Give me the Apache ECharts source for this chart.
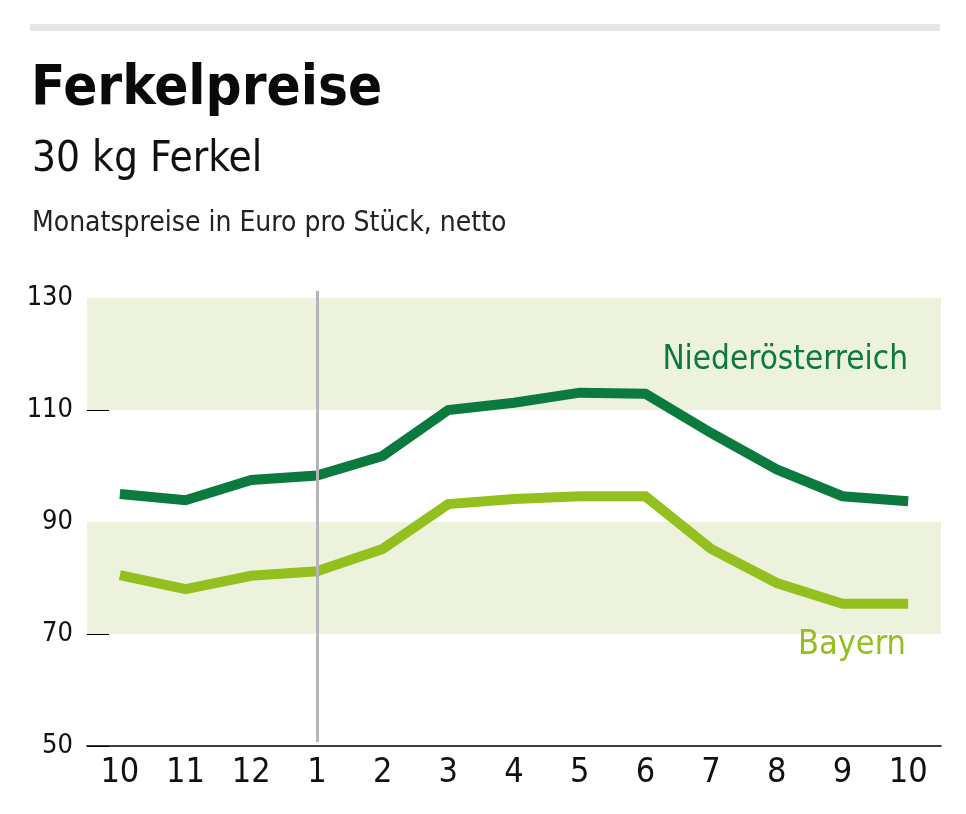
<!DOCTYPE html>
<html lang="de">
<head>
    <meta charset="UTF-8">
    <title>Ferkelpreise</title>
    <script src="https://cdn.jsdelivr.net/npm/echarts@6/dist/echarts.min.js"></script>
    <style>
        html, body { margin: 0; padding: 0; background: #fff; }
    </style>
</head>
<body>
<div id="main" style="width: 966px;height:814px;"></div>
<script type="text/javascript">
    var months = ['10', '11', '12', '1', '2', '3', '4', '5', '6', '7', '8', '9', '10'];
    var niederoesterreich = [95, 93.9, 97.5, 98.3, 101.8, 110, 111.3, 113.1, 112.9, 105.9, 99.4, 94.6, 93.7];
    var bayern = [80.5, 78, 80.4, 81.2, 85.2, 93.2, 94.1, 94.6, 94.6, 85.2, 79.1, 75.4, 75.4];
    var yTicks = [50, 70, 90, 110, 130];
    var bands = [[70, 90], [110, 130]];

    var font = '"DejaVu Sans Condensed", "Liberation Sans Narrow", sans-serif';
    var darkGreen = '#0b7a3e';
    var lightGreen = '#93c01f';

    var myChart = echarts.init(document.getElementById('main'));
    var option = {
        backgroundColor: '#fff',
        animation: false,
        title: [
            {
                text: 'Ferkelpreise', left: 26, top: 56,
                textStyle: {fontFamily: font, fontSize: 56, fontWeight: 'bold', color: '#0a0a0a'}
            },
            {
                text: '30 kg Ferkel', left: 27, top: 134,
                textStyle: {fontFamily: font, fontSize: 42, fontWeight: 'normal', color: '#111'}
            },
            {
                text: 'Monatspreise in Euro pro Stück, netto', left: 27, top: 205,
                textStyle: {fontFamily: font, fontSize: 28, fontWeight: 'normal', color: '#222'}
            }
        ],
        graphic: [
            {type: 'rect', z: 100, shape: {x: 30, y: 24, width: 910, height: 7}, style: {fill: '#e6e6e6'}},
            {
                type: 'text', z: 100, right: 58, top: 344,
                style: {text: 'Niederösterreich', font: '33px ' + font, fill: darkGreen}
            },
            {
                type: 'text', z: 100, right: 60, top: 628,
                style: {text: 'Bayern', font: '34px ' + font, fill: lightGreen}
            }
        ],
        grid: {left: 87, right: 25, top: 298, bottom: 68},
        xAxis: {
            type: 'category',
            data: months,
            boundaryGap: true,
            axisLine: {lineStyle: {color: '#000', width: 1.5}},
            axisTick: {show: false},
            axisLabel: {
                interval: 0, margin: 10,
                fontFamily: font, fontSize: 34, color: '#111'
            },
            splitLine: {show: false}
        },
        yAxis: {
            type: 'value',
            min: yTicks[0],
            max: yTicks[yTicks.length - 1],
            interval: 20,
            axisLine: {show: false},
            axisTick: {show: true, inside: true, length: 22, lineStyle: {color: '#000', width: 1}},
            axisLabel: {margin: 14, fontFamily: font, fontSize: 27, color: '#111'},
            splitLine: {show: false}
        },
        series: [
            {
                name: 'Bänder',
                type: 'line',
                data: [],
                silent: true,
                markArea: {
                    silent: true,
                    itemStyle: {color: '#edf2dc'},
                    data: bands.map(function (b) {
                        return [{yAxis: b[0]}, {yAxis: b[1]}];
                    })
                },
                markLine: {
                    silent: true,
                    symbol: 'none',
                    label: {show: false},
                    lineStyle: {color: '#b5b5b5', width: 3, type: 'solid'},
                    data: [[{xAxis: 3, y: 291}, {xAxis: 3, y: 742}]]
                }
            },
            {
                name: 'Niederösterreich',
                type: 'line',
                data: niederoesterreich,
                symbol: 'none',
                lineStyle: {color: darkGreen, width: 10, join: 'miter'},
                z: 3
            },
            {
                name: 'Bayern',
                type: 'line',
                data: bayern,
                symbol: 'none',
                lineStyle: {color: lightGreen, width: 10, join: 'miter'},
                z: 3
            }
        ]
    };
    myChart.setOption(option);
</script>
</body>
</html>
